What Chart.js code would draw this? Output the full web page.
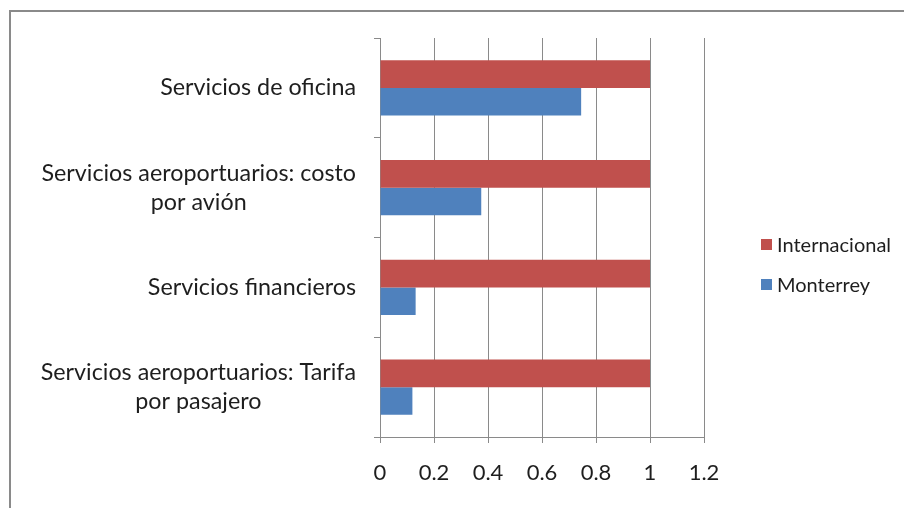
<!DOCTYPE html>
<html>
<head>
<meta charset="utf-8">
<script src="https://cdn.jsdelivr.net/npm/chart.js@4/dist/chart.umd.min.js"></script>
<style>
  html, body { margin: 0; padding: 0; background: #fff; }
  #wrap { position: relative; width: 904px; height: 508px; overflow: hidden; }
  #frame { position: absolute; left: 9px; top: 10px; width: 1000px; height: 1000px;
           border: 2px solid #8a8a8a; box-sizing: border-box; }
  canvas { position: absolute; left: 0; top: 0; }
</style>
</head>
<body>
<div id="wrap">
  <div id="frame"></div>
  <canvas id="c" width="904" height="508"></canvas>
</div>
<script>
// Service categories (top to bottom), each split into its display lines
const categories = [
  ['Servicios de oficina'],
  ['Servicios aeroportuarios: costo', 'por avión'],
  ['Servicios financieros'],
  ['Servicios aeroportuarios: Tarifa', 'por pasajero']
];
const seriesNames = ['Internacional', 'Monterrey'];
const internacional = [1, 1, 1, 1];
const monterrey = [0.745, 0.375, 0.132, 0.12];
const xTickLabels = ['0', '0.2', '0.4', '0.6', '0.8', '1', '1.2'];
const seriesColors = ['#C0504D', '#4F81BD'];

const FONT = 'Lato, "Open Sans", sans-serif';
const TEXT = '#1e1e1e';
const AXIS = '#8a8a8a';

// Category labels: lines centred on each other, block right-aligned to the axis
const categoryLabels = {
  id: 'categoryLabels',
  afterDraw(chart) {
    const ctx = chart.ctx, y = chart.scales.y;
    const lineH = 29, rightEdge = y.right - 24;
    ctx.save();
    ctx.font = '23.3px ' + FONT;
    ctx.fillStyle = TEXT;
    ctx.textBaseline = 'middle';
    ctx.textAlign = 'center';
    chart.data.labels.forEach((lines, i) => {
      const cy = y.getPixelForValue(i);
      const w = Math.max(...lines.map(l => ctx.measureText(l).width));
      const cx = rightEdge - w / 2;
      lines.forEach((l, k) => {
        ctx.fillText(l, cx, cy + (k - (lines.length - 1) / 2) * lineH);
      });
    });
    ctx.restore();
  }
};

// Legend at the right, stacked vertically
const sideLegend = {
  id: 'sideLegend',
  afterDraw(chart) {
    const ctx = chart.ctx;
    const x0 = 761, y0 = 244.5, gap = 40, box = 11;
    ctx.save();
    ctx.font = '20px ' + FONT;
    ctx.textBaseline = 'middle';
    ctx.textAlign = 'left';
    chart.data.datasets.forEach((ds, i) => {
      const cy = y0 + i * gap;
      ctx.fillStyle = ds.backgroundColor;
      ctx.fillRect(x0, cy - box / 2, box, box);
      ctx.fillStyle = TEXT;
      ctx.fillText(ds.label, x0 + 16, cy + 1);
    });
    ctx.restore();
  }
};

new Chart(document.getElementById('c'), {
  type: 'bar',
  data: {
    labels: categories,
    datasets: [
      { label: seriesNames[0], data: internacional, backgroundColor: seriesColors[0] },
      { label: seriesNames[1], data: monterrey, backgroundColor: seriesColors[1] }
    ]
  },
  options: {
    indexAxis: 'y',
    responsive: false,
    animation: false,
    events: [],
    layout: { padding: { left: 0, right: 200, top: 38, bottom: 0 } },
    datasets: { bar: { barPercentage: 1, categoryPercentage: 0.555 } },
    plugins: { legend: { display: false }, tooltip: { enabled: false } },
    scales: {
      x: {
        min: 0, max: 1.2,
        ticks: {
          stepSize: 0.2,
          color: TEXT,
          font: { family: FONT, size: 22 },
          padding: 17,
          maxRotation: 0,
          callback: (v, i) => xTickLabels[i]
        },
        grid: { color: AXIS, lineWidth: 1, tickLength: 6 },
        border: { color: AXIS, width: 1 },
        afterFit(s) { s.height = 71; }
      },
      y: {
        ticks: { display: false },
        grid: { offset: true, drawOnChartArea: false, color: AXIS, tickLength: 6 },
        border: { color: AXIS, width: 1 },
        afterFit(s) { s.width = 380; }
      }
    }
  },
  plugins: [categoryLabels, sideLegend]
});
</script>
</body>
</html>
